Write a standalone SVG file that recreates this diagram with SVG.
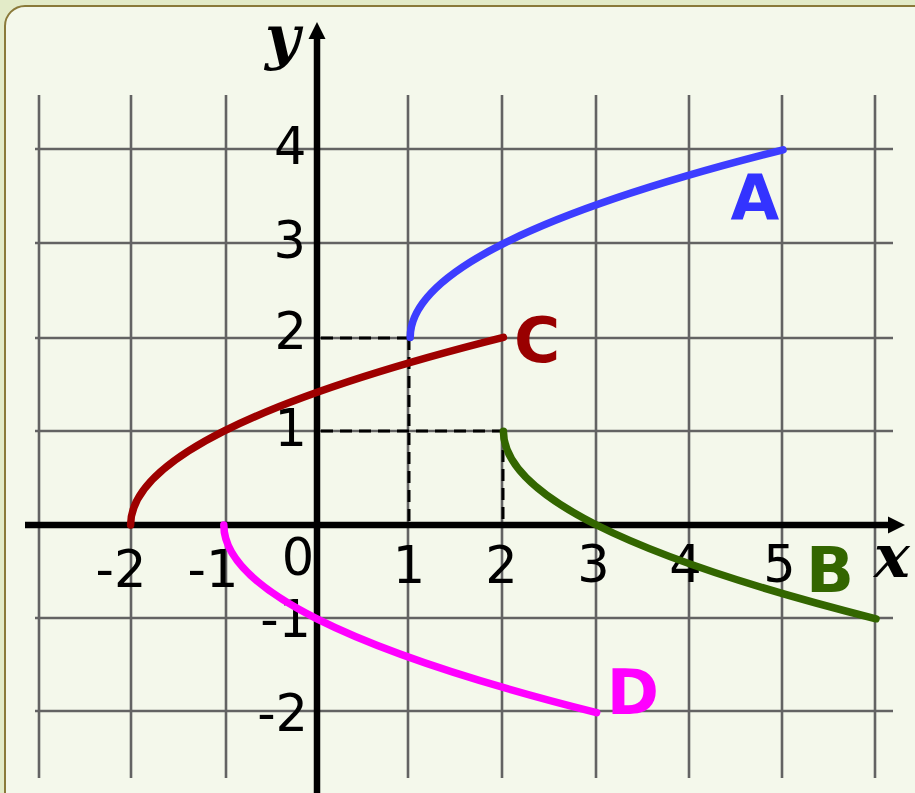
<svg xmlns="http://www.w3.org/2000/svg" width="915" height="793" viewBox="0 0 915 793">
<style>
.grid line{stroke:#636363;stroke-width:2.6}
.axis{stroke:#000;stroke-width:6.5}
.dash{stroke:#000;stroke-width:3;stroke-dasharray:12 7;fill:none}
.curve{fill:none;stroke-width:7.5;stroke-linecap:round}
.tick{font-family:"DejaVu Sans","Verdana",sans-serif;font-size:51px;fill:#000}
.name{font-family:"DejaVu Sans","Verdana",sans-serif;font-size:63px;font-weight:bold}
.var{font-family:"DejaVu Serif","Liberation Serif",serif;font-size:60px;font-weight:bold;font-style:italic;fill:#000}
</style>
<rect x="0" y="0" width="915" height="793" fill="#e3ebc8"/>
<rect id="panel" x="5" y="6" width="940" height="820" rx="20" ry="20" fill="#f4f8eb" stroke="#8a7a3a" stroke-width="2"/>
<g id="grid" class="grid">
<line x1="39" y1="95" x2="39" y2="778"/>
<line x1="131" y1="95" x2="131" y2="778"/>
<line x1="226" y1="95" x2="226" y2="778"/>
<line x1="408" y1="95" x2="408" y2="778"/>
<line x1="502" y1="95" x2="502" y2="778"/>
<line x1="596" y1="95" x2="596" y2="778"/>
<line x1="689" y1="95" x2="689" y2="778"/>
<line x1="782" y1="95" x2="782" y2="778"/>
<line x1="875" y1="95" x2="875" y2="778"/>
<line x1="35" y1="149" x2="893" y2="149"/>
<line x1="35" y1="243" x2="893" y2="243"/>
<line x1="35" y1="338" x2="893" y2="338"/>
<line x1="35" y1="431" x2="893" y2="431"/>
<line x1="35" y1="618" x2="893" y2="618"/>
<line x1="35" y1="711" x2="893" y2="711"/>
</g>
<g id="guides">
<path class="dash" d="M321,338 H409 M409,338 V525"/>
<path class="dash" d="M321,431 H503 M503,431 V525"/>
</g>
<g id="axes">
<line class="axis" x1="25" y1="525" x2="890" y2="525"/>
<polygon points="888,516.5 905,525 888,533.5" fill="#000"/>
<line class="axis" x1="317" y1="793" x2="317" y2="37"/>
<polygon points="308.5,39 317,22 325.5,39" fill="#000"/>
<text class="var" x="265" y="58">y</text>
<text class="var" x="874" y="577">x</text>
</g>
<g id="ticks" class="tick">
<text x="121" y="587" text-anchor="middle">-2</text>
<text x="213" y="587" text-anchor="middle">-1</text>
<text x="298" y="575" text-anchor="middle">0</text>
<text x="409" y="583" text-anchor="middle">1</text>
<text x="501.5" y="583" text-anchor="middle">2</text>
<text x="593.5" y="582" text-anchor="middle">3</text>
<text x="685.5" y="582" text-anchor="middle">4</text>
<text x="779.5" y="582" text-anchor="middle">5</text>
<text x="306.5" y="164" text-anchor="end">4</text>
<text x="306" y="258" text-anchor="end">3</text>
<text x="307" y="349" text-anchor="end">2</text>
<text x="307" y="446" text-anchor="end">1</text>
<text x="311" y="637" text-anchor="end">-1</text>
<text x="308" y="731" text-anchor="end">-2</text>
</g>
<g id="curve-C">
<path class="curve" stroke="#9e0000" d="M130.6,525 Q130.6,431.2 503.4,337.4"/>
<text class="name" fill="#990000" x="537" y="362" text-anchor="middle">C</text>
</g>
<g id="curve-A">
<path class="curve" stroke="#3d3dff" d="M410.2,337.4 Q410.2,243.6 783,149.8"/>
<text class="name" fill="#3333ff" x="755" y="219" text-anchor="middle">A</text>
</g>
<g id="curve-B">
<path class="curve" stroke="#336600" d="M503.4,431.2 Q503.4,525 876,618.8"/>
<text class="name" fill="#336600" x="830" y="592" text-anchor="middle">B</text>
</g>
<g id="curve-D">
<path class="curve" stroke="#ff00ff" d="M223.8,525 Q223.8,618.8 596.6,712.6"/>
<text class="name" fill="#ff00ff" x="633" y="714" text-anchor="middle">D</text>
</g>
</svg>
